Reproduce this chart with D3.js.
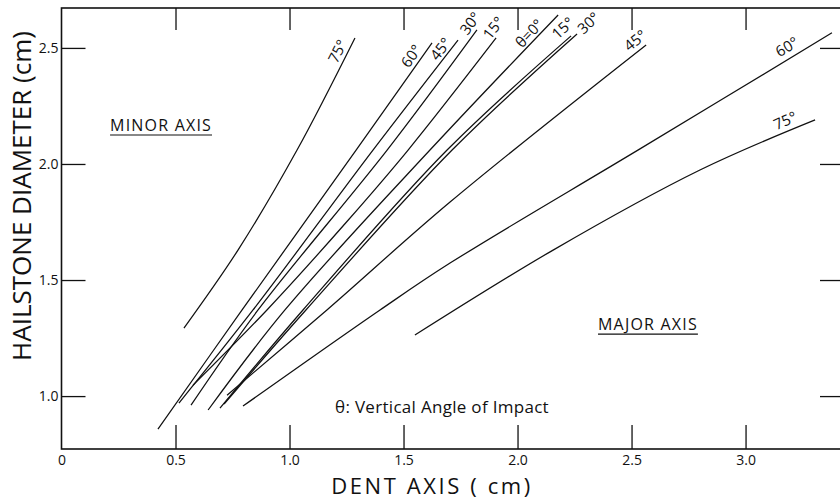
<!DOCTYPE html>
<html>
<head>
<meta charset="utf-8">
<script src="https://cdn.jsdelivr.net/npm/d3@7"></script>
<style>
  html, body { margin: 0; padding: 0; background: #fff; }
  svg { display: block; }
  text { font-family: "Open Sans", "DejaVu Sans", sans-serif; fill: #111; }
</style>
</head>
<body>
<svg id="chart" width="840" height="502"></svg>
<script>
// tick values
const xTicks = [0, 0.5, 1.0, 1.5, 2.0, 2.5, 3.0];
const yTicks = [1.0, 1.5, 2.0, 2.5];

// curves: [dent axis cm, hailstone diameter cm]
const minor75 = [[0.537, 1.293], [0.774, 1.629], [1.033, 2.060], [1.287, 2.543]];
const minor60 = [[0.423, 0.858], [0.792, 1.371], [1.292, 2.060], [1.625, 2.522]];
const minor45 = [[0.515, 0.970], [0.840, 1.371], [1.366, 2.060], [1.739, 2.534]];
const minor30 = [[0.568, 0.961], [0.862, 1.371], [1.428, 2.060], [1.822, 2.578]];
const minor15 = [[0.577, 1.047], [0.901, 1.371], [1.250, 1.750], [1.520, 2.060], [1.906, 2.543]];
const theta0  = [[0.643, 0.940], [0.980, 1.371], [1.616, 2.060], [2.178, 2.642]];
const major15 = [[0.695, 0.948], [1.059, 1.371], [1.691, 2.060], [2.235, 2.552]];
const major30 = [[0.713, 0.966], [1.072, 1.371], [1.713, 2.060], [2.261, 2.560]];
const major45 = [[0.726, 1.004], [1.164, 1.371], [1.704, 1.836], [2.564, 2.513]];
const major60 = [[0.796, 0.957], [1.397, 1.371], [1.704, 1.573], [2.537, 2.065], [3.379, 2.565]];
const major75 = [[1.550, 1.263], [2.156, 1.629], [2.800, 1.974], [3.305, 2.190]];

const curveNames = ["75°", "60°", "45°", "30°", "15°", "θ=0°", "15°", "30°", "45°", "60°", "75°"];
const curveData = [minor75, minor60, minor45, minor30, minor15, theta0,
                   major15, major30, major45, major60, major75];

// label placement along the end of each curve (pixels back from the end, above the line)
const labelPlace = [
  { back: 8, up: 4 }, { back: 11, up: 4 }, { back: 6, up: 3 }, { back: -13, up: 4 },
  { back: -18, up: 3 }, { back: 17, up: 3 }, { back: -11, up: 6 },
  { back: -4, up: -5, anchor: "start" }, { back: -6, up: 5 }, { back: 34, up: 6 },
  { back: 16, up: 6 },
];

const svg = d3.select("#chart");
const x = d3.scaleLinear().domain([0, 3.423]).range([61.5, 842]);
const y = d3.scaleLinear().domain([0.772, 2.672]).range([449, 8]);
const fmt = d => d === 0 ? "0" : d3.format(".1f")(d);

// inward ticks on all four sides
svg.append("g").attr("transform", `translate(0,${y.range()[0]})`)
  .call(d3.axisBottom(x).tickValues(xTicks).tickSize(-24).tickPadding(6).tickFormat(fmt))
  .call(g => g.select(".domain").remove())
  .call(g => g.selectAll(".tick").filter(d => d === 0).select("line").remove())
  .call(g => g.selectAll("text").attr("font-size", 14).attr("font-family", null));

svg.append("g").attr("transform", `translate(0,${y.range()[1]})`)
  .call(d3.axisTop(x).tickValues(xTicks.slice(1)).tickSize(-22).tickFormat(""))
  .call(g => g.select(".domain").remove());

svg.append("g").attr("transform", `translate(${x.range()[0]},0)`)
  .call(d3.axisLeft(y).tickValues(yTicks).tickSize(-24).tickPadding(3).tickFormat(fmt))
  .call(g => g.select(".domain").remove())
  .call(g => g.selectAll("text").attr("font-size", 14).attr("font-family", null));

svg.append("g").attr("transform", `translate(${x.range()[1]},0)`)
  .call(d3.axisRight(y).tickValues(yTicks).tickSize(-22).tickFormat(""))
  .call(g => g.select(".domain").remove());

svg.selectAll(".tick line").attr("stroke", "#111").attr("stroke-width", 1.3);

// frame
svg.append("rect")
  .attr("x", x.range()[0]).attr("y", y.range()[1])
  .attr("width", x.range()[1] - x.range()[0]).attr("height", y.range()[0] - y.range()[1])
  .attr("fill", "none").attr("stroke", "#111").attr("stroke-width", 1.6);

// curves
const line = d3.line().x(d => x(d[0])).y(d => y(d[1])).curve(d3.curveCatmullRom.alpha(0.5));
svg.append("g").selectAll("path").data(curveData).join("path")
  .attr("d", line).attr("fill", "none").attr("stroke", "#111").attr("stroke-width", 1.25);

// curve labels, rotated with the last segment of each curve
svg.append("g").selectAll("text").data(curveData).join("text")
  .attr("transform", (d, i) => {
    const p1 = d[d.length - 1], p0 = d[d.length - 2];
    const a = Math.atan2(y(p1[1]) - y(p0[1]), x(p1[0]) - x(p0[0])) * 180 / Math.PI;
    return `translate(${x(p1[0])},${y(p1[1])}) rotate(${a})`;
  })
  .attr("x", (d, i) => -labelPlace[i].back)
  .attr("y", (d, i) => -labelPlace[i].up)
  .attr("text-anchor", (d, i) => labelPlace[i].anchor || "end")
  .attr("font-size", 15)
  .text((d, i) => curveNames[i]);

// underlined region notes
function note(tx, ty, str, size, spacing, underline) {
  const t = svg.append("text").attr("x", x(tx)).attr("y", y(ty))
    .attr("font-size", size).attr("letter-spacing", spacing).text(str);
  if (underline) {
    const w = t.node().getComputedTextLength();
    svg.append("line").attr("x1", x(tx)).attr("x2", x(tx) + w)
      .attr("y1", y(ty) + 4).attr("y2", y(ty) + 4)
      .attr("stroke", "#111").attr("stroke-width", 1.2);
  }
}
note(0.213, 2.142, "MINOR AXIS", 16, 1.2, true);
note(2.353, 1.284, "MAJOR AXIS", 16, 1.2, true);
note(1.2, 0.927, "θ: Vertical Angle of Impact", 17, 0.3, false);

// axis titles
svg.append("text").attr("x", 432).attr("y", 494).attr("text-anchor", "middle")
  .attr("font-size", 22).attr("letter-spacing", 2.6).text("DENT AXIS ( cm)");
svg.append("text").attr("transform", "translate(31,196) rotate(-90)")
  .attr("text-anchor", "middle").attr("font-size", 26).text("HAILSTONE DIAMETER (cm)");
</script>
</body>
</html>
